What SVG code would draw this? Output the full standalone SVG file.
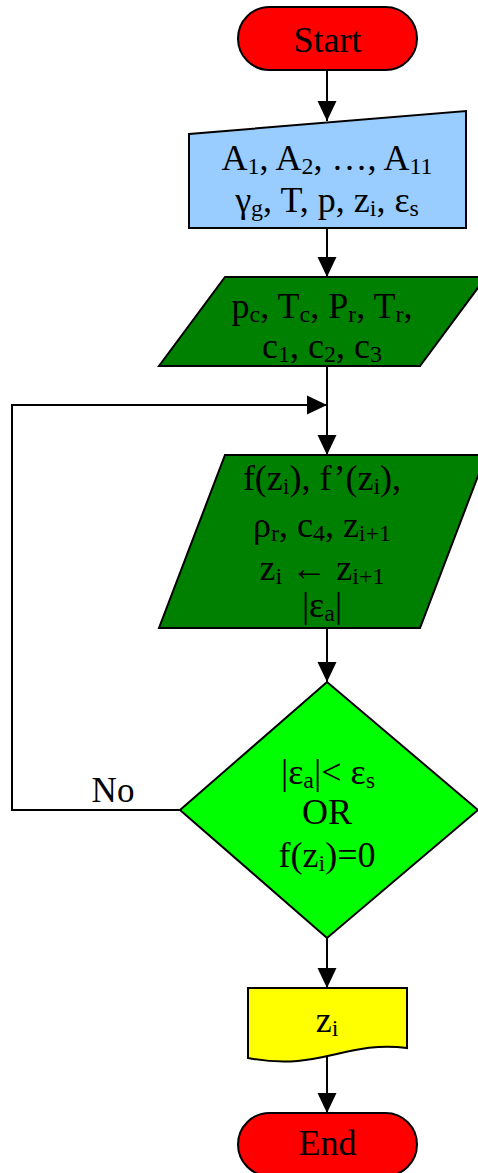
<svg xmlns="http://www.w3.org/2000/svg" width="478" height="1173" viewBox="0 0 478 1173">
<defs>
<marker id="ah" viewBox="0 0 20 20" markerWidth="20" markerHeight="20" refX="20" refY="10" orient="auto" markerUnits="userSpaceOnUse">
<path d="M0,0.5 L20,10 L0,19.5 Z" fill="#000"/>
</marker>
<style>
.shape{stroke:#000;stroke-width:2;stroke-linejoin:miter}
.t{font-family:"Liberation Serif","Times New Roman",serif;font-size:36px;fill:#000;text-anchor:middle}
.big{font-size:36px}
.no{font-size:35px}
.sb{font-size:24px}
.conn{fill:none;stroke:#000;stroke-width:2}
</style>
</defs>
<rect width="478" height="1173" fill="#fff"/>
<g id="connectors">
<path class="conn" d="M327,70 L327,121" marker-end="url(#ah)"/>
<path class="conn" d="M327,228 L327,277" marker-end="url(#ah)"/>
<path class="conn" d="M327,366 L327,455" marker-end="url(#ah)"/>
<path class="conn" d="M180,810 L12,810 L12,405 L327,405" marker-end="url(#ah)"/>
<path class="conn" d="M327,628 L327,682" marker-end="url(#ah)"/>
<path class="conn" d="M327,938 L327,988" marker-end="url(#ah)"/>
<path class="conn" d="M327,1057 L327,1113" marker-end="url(#ah)"/>
<text class="t no" x="113" y="802">No</text>
</g>
<g id="start">
<rect class="shape" x="238" y="7" width="179" height="63" rx="31.5" fill="#ff0000"/>
<text class="t big" x="327.5" y="52">Start</text>
</g>
<g id="input">
<polygon class="shape" points="189,134 466,111 466,228 189,228" fill="#99ccff"/>
<text class="t" x="327" y="170">A<tspan class="sb" dy="4">1</tspan><tspan dy="-4">, A</tspan><tspan class="sb" dy="4">2</tspan><tspan dy="-4">, …, A</tspan><tspan class="sb" dy="4">11</tspan></text>
<text class="t" x="327" y="212">γ<tspan class="sb" dy="4">g</tspan><tspan dy="-4">, T, p, z</tspan><tspan class="sb" dy="4">i</tspan><tspan dy="-4">, ε</tspan><tspan class="sb" dy="4">s</tspan></text>
</g>
<g id="params">
<polygon class="shape" points="225,277 486,277 420,366 159,366" fill="#008000"/>
<text class="t" x="322" y="318">p<tspan class="sb" dy="4">c</tspan><tspan dy="-4">, T</tspan><tspan class="sb" dy="4">c</tspan><tspan dy="-4">, P</tspan><tspan class="sb" dy="4">r</tspan><tspan dy="-4">, T</tspan><tspan class="sb" dy="4">r</tspan><tspan dy="-4">,</tspan></text>
<text class="t" x="322" y="358">c<tspan class="sb" dy="4">1</tspan><tspan dy="-4">, c</tspan><tspan class="sb" dy="4">2</tspan><tspan dy="-4">, c</tspan><tspan class="sb" dy="4">3</tspan></text>
</g>
<g id="iterate">
<polygon class="shape" points="225,455 486,455 420,628 159,628" fill="#008000"/>
<text class="t" x="322" y="490">f(z<tspan class="sb" dy="4">i</tspan><tspan dy="-4">), f’(z</tspan><tspan class="sb" dy="4">i</tspan><tspan dy="-4">),</tspan></text>
<text class="t" x="322" y="537">ρ<tspan class="sb" dy="4">r</tspan><tspan dy="-4">, c</tspan><tspan class="sb" dy="4">4</tspan><tspan dy="-4">, z</tspan><tspan class="sb" dy="4">i+1</tspan></text>
<text class="t" x="322" y="580">z<tspan class="sb" dy="4">i</tspan><tspan dy="-4"> ← z</tspan><tspan class="sb" dy="4">i+1</tspan></text>
<text class="t" x="322" y="617">|ε<tspan class="sb" dy="4">a</tspan><tspan dy="-4">|</tspan></text>
</g>
<g id="decision">
<polygon class="shape" points="327,682 478,810 327,938 180,810" fill="#00ff00"/>
<text class="t" x="328" y="784">|ε<tspan class="sb" dy="4">a</tspan><tspan dy="-4">|&lt; ε</tspan><tspan class="sb" dy="4">s</tspan></text>
<text class="t" x="327" y="824">OR</text>
<text class="t" x="327" y="867">f(z<tspan class="sb" dy="4">i</tspan><tspan dy="-4">)=0</tspan></text>
</g>
<g id="output">
<path class="shape" d="M248,988 L407,988 L407,1048 C345,1040 320,1072 248,1058 Z" fill="#ffff00"/>
<text class="t" x="327" y="1032">z<tspan class="sb" dy="4">i</tspan></text>
</g>
<g id="end">
<rect class="shape" x="238" y="1113" width="179" height="63" rx="31.5" fill="#ff0000"/>
<text class="t big" x="327.5" y="1155">End</text>
</g>
</svg>
